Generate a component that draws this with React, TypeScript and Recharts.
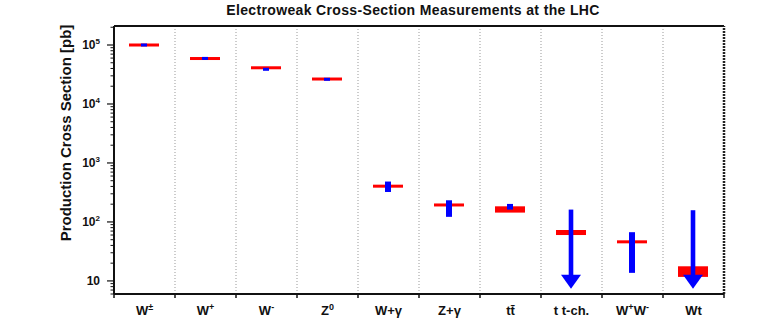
import React from 'react';
import { ComposedChart, Bar, XAxis, YAxis, ReferenceLine } from 'recharts';

// process names (base text + superscript parts)
const labelMain = [['W'], ['W'], ['W'], ['Z'], ['W+γ'], ['Z+γ'], ['tt̄'], ['t t-ch.'], ['W', 'W'], ['Wt']];
const labelSup = [['±'], ['+'], ['-'], ['0'], [''], [''], [''], [''], ['+', '-'], ['']];

// theory prediction band [pb]
const theoryLow = [0.99e5, 5.85e4, 4.07e4, 2.62e4, 398, 190, 144, 60, 45.5, 11.7];
const theoryHigh = [1.01e5, 5.95e4, 4.15e4, 2.68e4, 410, 198, 184, 73, 46.5, 17.7];

// measurement [pb]; upper limits drawn as arrows
const measLow = [0.98e5, 5.85e4, 3.8e4, 2.58e4, 322, 122, 162, 7.4, 13.7, 7.4];
const measHigh = [1.02e5, 6.0e4, 3.95e4, 2.66e4, 484, 233, 202, 162, 67, 158];
const upperLimit = [false, false, false, false, false, false, false, true, false, true];

const majorTicks = [10, 100, 1000, 10000, 100000];
const minorTicks = [6, 7, 8, 9, 20, 30, 40, 50, 60, 70, 80, 90, 200, 300, 400, 500, 600, 700, 800, 900,
  2000, 3000, 4000, 5000, 6000, 7000, 8000, 9000, 20000, 30000, 40000, 50000, 60000, 70000, 80000, 90000, 200000];

const yDomain = [6, 210000];
const boundaries = [0.5, 1.5, 2.5, 3.5, 4.5, 5.5, 6.5, 7.5, 8.5];

const data = labelMain.map((_, i) => ({
  x: i,
  theory: [theoryLow[i], theoryHigh[i]],
  meas: [measLow[i], measHigh[i]],
  limit: upperLimit[i],
}));

const xTicks: number[] = [];
for (let i = -0.5; i <= 9.5; i += 0.5) xTicks.push(i);
const yTicks = [...majorTicks, ...minorTicks].sort((a, b) => a - b);

const FONT = '"Liberation Sans", Arial, Helvetica, sans-serif';
const AXIS = '#111';

const XTick = (props: any) => {
  const { x, y, payload } = props;
  const v = payload.value;
  if (!Number.isInteger(v)) {
    return <line x1={x} x2={x} y1={y} y2={y + 4} stroke={AXIS} strokeWidth={1.5} />;
  }
  const main = labelMain[v];
  const sup = labelSup[v];
  return (
    <text x={x} y={y + 21} textAnchor="middle" fontFamily={FONT} fontWeight="bold" fontSize={13} fill="#111">
      {main.map((m, k) => (
        <React.Fragment key={k}>
          <tspan dy={k > 0 && sup[k - 1] ? 5 : 0}>{m}</tspan>
          {sup[k] ? <tspan dy={-5} fontSize={9}>{sup[k]}</tspan> : null}
        </React.Fragment>
      ))}
    </text>
  );
};

const YTick = (props: any) => {
  const { x, y, payload } = props;
  const v = payload.value;
  const lg = Math.log10(v);
  const exp = Math.round(lg);
  const major = Math.abs(lg - exp) < 1e-6;
  if (!major) {
    return <line x1={x - 3.5} x2={x} y1={y} y2={y} stroke={AXIS} strokeWidth={1} />;
  }
  return (
    <g>
      <line x1={x - 7} x2={x} y1={y} y2={y} stroke={AXIS} strokeWidth={1.2} />
      <text x={x - 14} y={y + 4} textAnchor="end" fontFamily={FONT} fontWeight="bold" fontSize={12} fill="#111">
        {exp === 1 ? '10' : (
          <>
            <tspan>10</tspan>
            <tspan dy={-5} fontSize={8}>{exp}</tspan>
          </>
        )}
      </text>
    </g>
  );
};

const TheoryShape = (p: any) => {
  const { x, y, width, height } = p;
  const h = Math.max(height || 0, 3);
  const cy = y + (height || 0) / 2;
  return <rect x={x} y={cy - h / 2} width={width} height={h} fill="#ff0000" />;
};

const MeasShape = (p: any) => {
  const { x, y, width, height, payload } = p;
  const cx = x + width / 2;
  if (payload.limit) {
    const bottom = y + height;
    return (
      <g fill="#0000ff">
        <rect x={cx - 2.3} y={y} width={4.6} height={height - 13} />
        <polygon points={`${cx - 10},${bottom - 14} ${cx + 10},${bottom - 14} ${cx},${bottom}`} />
      </g>
    );
  }
  const h = Math.max(height || 0, 3);
  const cy = y + (height || 0) / 2;
  return <rect x={cx - 3} y={cy - h / 2} width={6} height={h} fill="#0000ff" />;
};

const YLabel = () => (
  <text
    x={71}
    y={133}
    transform="rotate(-90, 71, 133)"
    textAnchor="middle"
    fontFamily={FONT}
    fontWeight="bold"
    fontSize={15}
    fill="#111"
  >
    Production Cross Section [pb]
  </text>
);

export default function App() {
  return (
    <div style={{ position: 'absolute', left: 0, top: 0, width: 763, height: 327, background: '#fff' }}>
      <div
        style={{
          position: 'absolute',
          left: 413,
          top: 2,
          transform: 'translateX(-50%)',
          whiteSpace: 'nowrap',
          fontFamily: FONT,
          fontWeight: 'bold',
          fontSize: 14,
          letterSpacing: 0.35,
          lineHeight: '16px',
          color: '#111',
        }}
      >
        Electroweak Cross-Section Measurements at the LHC
      </div>
      <ComposedChart
        width={763}
        height={327}
        data={data}
        margin={{ top: 26, right: 39, bottom: 3, left: 54 }}
      >
        <XAxis
          xAxisId="t"
          dataKey="x"
          type="number"
          domain={[-0.5, 9.5]}
          ticks={xTicks}
          interval={0}
          tick={<XTick />}
          tickLine={false}
          tickSize={0}
          tickMargin={0}
          height={30}
          axisLine={{ stroke: AXIS, strokeWidth: 2 }}
        />
        <XAxis xAxisId="m" dataKey="x" type="number" domain={[-0.5, 9.5]} orientation="top" height={0} hide />
        <YAxis
          scale="log"
          type="number"
          domain={yDomain}
          allowDataOverflow
          ticks={yTicks}
          interval={0}
          tick={<YTick />}
          tickLine={false}
          tickSize={0}
          tickMargin={0}
          width={60}
          axisLine={{ stroke: AXIS, strokeWidth: 2 }}
          label={<YLabel />}
        />
        {boundaries.map((b) => (
          <ReferenceLine key={b} xAxisId="t" x={b} stroke="#999" strokeDasharray="1 2" strokeWidth={1} />
        ))}
        <ReferenceLine xAxisId="t" y={yDomain[1]} stroke={AXIS} strokeWidth={2} />
        <ReferenceLine xAxisId="t" x={9.5} stroke="#222" strokeWidth={2.5} strokeDasharray="2 1" />
        <Bar xAxisId="t" dataKey="theory" barSize={30} shape={<TheoryShape />} isAnimationActive={false} />
        <Bar xAxisId="m" dataKey="meas" barSize={6} shape={<MeasShape />} isAnimationActive={false} />
      </ComposedChart>
    </div>
  );
}
